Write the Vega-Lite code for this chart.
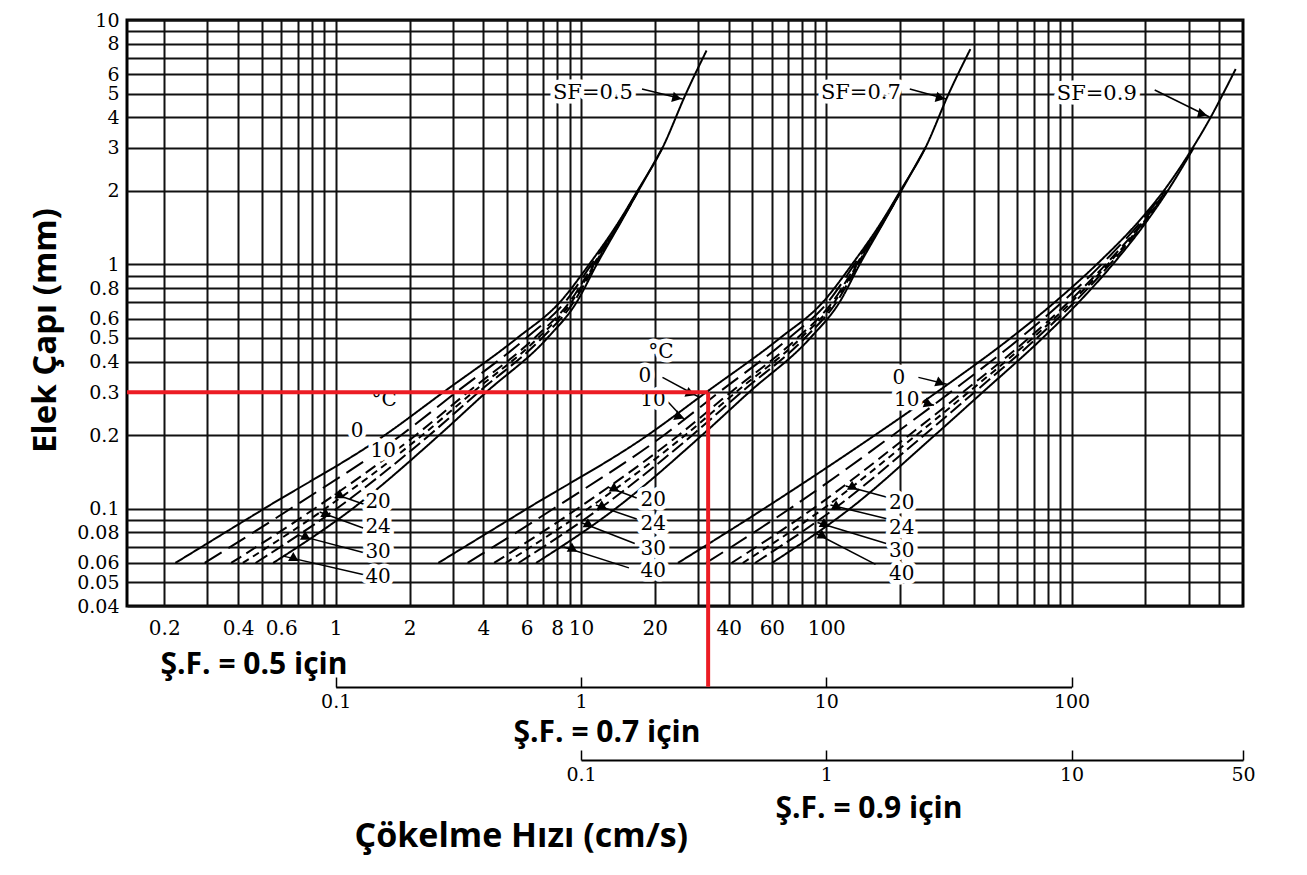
{
  "$schema": "https://vega.github.io/schema/vega-lite/v6.json",
  "width": 1116,
  "height": 586,
  "autosize": {"type": "none"},
  "padding": {"left": 127, "top": 20, "right": 64, "bottom": 269},
  "background": "white",
  "config": {
    "view": {"stroke": "black", "strokeWidth": 3},
    "axis": {"labelColor": "black", "titleColor": "black", "labelOverlap": false, "labelFlush": false, "labelBound": false}
  },
  "datasets": {
    "curves": [
      {"sf":"0.5","t":0,"d":0.06,"v":0.222},{"sf":"0.5","t":0,"d":0.1,"v":0.51},{"sf":"0.5","t":0,"d":0.2,"v":1.585},{"sf":"0.5","t":0,"d":0.3,"v":2.75},{"sf":"0.5","t":0,"d":0.5,"v":5.5},{"sf":"0.5","t":0,"d":0.7,"v":8.2},{"sf":"0.5","t":0,"d":1,"v":10.8},{"sf":"0.5","t":0,"d":1.5,"v":14.3},{"sf":"0.5","t":0,"d":2,"v":17.0},{"sf":"0.5","t":0,"d":3,"v":21.5},{"sf":"0.5","t":0,"d":5,"v":26.8},{"sf":"0.5","t":0,"d":7.5,"v":32.5},
      {"sf":"0.5","t":10,"d":0.06,"v":0.2924},{"sf":"0.5","t":10,"d":0.1,"v":0.654},{"sf":"0.5","t":10,"d":0.2,"v":1.847},{"sf":"0.5","t":10,"d":0.3,"v":3.102},{"sf":"0.5","t":10,"d":0.5,"v":5.988},{"sf":"0.5","t":10,"d":0.7,"v":8.6},{"sf":"0.5","t":10,"d":1,"v":11.03},{"sf":"0.5","t":10,"d":1.5,"v":14.39},{"sf":"0.5","t":10,"d":2,"v":17.05},
      {"sf":"0.5","t":20,"d":0.06,"v":0.3748},{"sf":"0.5","t":20,"d":0.1,"v":0.8185},{"sf":"0.5","t":20,"d":0.2,"v":2.12},{"sf":"0.5","t":20,"d":0.3,"v":3.458},{"sf":"0.5","t":20,"d":0.5,"v":6.464},{"sf":"0.5","t":20,"d":0.7,"v":8.971},{"sf":"0.5","t":20,"d":1,"v":11.25},{"sf":"0.5","t":20,"d":1.5,"v":14.47},{"sf":"0.5","t":20,"d":2,"v":17.09},
      {"sf":"0.5","t":24,"d":0.06,"v":0.4183},{"sf":"0.5","t":24,"d":0.1,"v":0.9046},{"sf":"0.5","t":24,"d":0.2,"v":2.254},{"sf":"0.5","t":24,"d":0.3,"v":3.628},{"sf":"0.5","t":24,"d":0.5,"v":6.686},{"sf":"0.5","t":24,"d":0.7,"v":9.144},{"sf":"0.5","t":24,"d":1,"v":11.34},{"sf":"0.5","t":24,"d":1.5,"v":14.51},{"sf":"0.5","t":24,"d":2,"v":17.11},
      {"sf":"0.5","t":30,"d":0.06,"v":0.4713},{"sf":"0.5","t":30,"d":0.1,"v":1.008},{"sf":"0.5","t":30,"d":0.2,"v":2.408},{"sf":"0.5","t":30,"d":0.3,"v":3.823},{"sf":"0.5","t":30,"d":0.5,"v":6.938},{"sf":"0.5","t":30,"d":0.7,"v":9.333},{"sf":"0.5","t":30,"d":1,"v":11.45},{"sf":"0.5","t":30,"d":1.5,"v":14.55},{"sf":"0.5","t":30,"d":2,"v":17.13},
      {"sf":"0.5","t":40,"d":0.06,"v":0.556},{"sf":"0.5","t":40,"d":0.1,"v":1.17},{"sf":"0.5","t":40,"d":0.2,"v":2.64},{"sf":"0.5","t":40,"d":0.3,"v":4.11},{"sf":"0.5","t":40,"d":0.5,"v":7.3},{"sf":"0.5","t":40,"d":0.7,"v":9.6},{"sf":"0.5","t":40,"d":1,"v":11.6},{"sf":"0.5","t":40,"d":1.5,"v":14.6},{"sf":"0.5","t":40,"d":2,"v":17.15},{"sf":"0.5","t":40,"d":3,"v":21.5},

      {"sf":"0.7","t":0,"d":0.06,"v":0.262},{"sf":"0.7","t":0,"d":0.1,"v":0.602},{"sf":"0.7","t":0,"d":0.2,"v":1.87},{"sf":"0.7","t":0,"d":0.3,"v":3.245},{"sf":"0.7","t":0,"d":0.5,"v":6.49},{"sf":"0.7","t":0,"d":0.7,"v":9.68},{"sf":"0.7","t":0,"d":1,"v":12.74},{"sf":"0.7","t":0,"d":1.5,"v":16.87},{"sf":"0.7","t":0,"d":2,"v":20.06},{"sf":"0.7","t":0,"d":3,"v":25.37},{"sf":"0.7","t":0,"d":5,"v":31.6},{"sf":"0.7","t":0,"d":7.6,"v":38.7},
      {"sf":"0.7","t":10,"d":0.06,"v":0.345},{"sf":"0.7","t":10,"d":0.1,"v":0.772},{"sf":"0.7","t":10,"d":0.2,"v":2.179},{"sf":"0.7","t":10,"d":0.3,"v":3.66},{"sf":"0.7","t":10,"d":0.5,"v":7.066},{"sf":"0.7","t":10,"d":0.7,"v":10.15},{"sf":"0.7","t":10,"d":1,"v":13.02},{"sf":"0.7","t":10,"d":1.5,"v":16.98},{"sf":"0.7","t":10,"d":2,"v":20.12},
      {"sf":"0.7","t":20,"d":0.06,"v":0.4423},{"sf":"0.7","t":20,"d":0.1,"v":0.9658},{"sf":"0.7","t":20,"d":0.2,"v":2.502},{"sf":"0.7","t":20,"d":0.3,"v":4.08},{"sf":"0.7","t":20,"d":0.5,"v":7.628},{"sf":"0.7","t":20,"d":0.7,"v":10.59},{"sf":"0.7","t":20,"d":1,"v":13.28},{"sf":"0.7","t":20,"d":1.5,"v":17.07},{"sf":"0.7","t":20,"d":2,"v":20.17},
      {"sf":"0.7","t":24,"d":0.06,"v":0.4936},{"sf":"0.7","t":24,"d":0.1,"v":1.067},{"sf":"0.7","t":24,"d":0.2,"v":2.66},{"sf":"0.7","t":24,"d":0.3,"v":4.281},{"sf":"0.7","t":24,"d":0.5,"v":7.889},{"sf":"0.7","t":24,"d":0.7,"v":10.79},{"sf":"0.7","t":24,"d":1,"v":13.38},{"sf":"0.7","t":24,"d":1.5,"v":17.12},{"sf":"0.7","t":24,"d":2,"v":20.19},
      {"sf":"0.7","t":30,"d":0.06,"v":0.5561},{"sf":"0.7","t":30,"d":0.1,"v":1.189},{"sf":"0.7","t":30,"d":0.2,"v":2.841},{"sf":"0.7","t":30,"d":0.3,"v":4.511},{"sf":"0.7","t":30,"d":0.5,"v":8.187},{"sf":"0.7","t":30,"d":0.7,"v":11.01},{"sf":"0.7","t":30,"d":1,"v":13.51},{"sf":"0.7","t":30,"d":1.5,"v":17.17},{"sf":"0.7","t":30,"d":2,"v":20.21},
      {"sf":"0.7","t":40,"d":0.06,"v":0.656},{"sf":"0.7","t":40,"d":0.1,"v":1.381},{"sf":"0.7","t":40,"d":0.2,"v":3.115},{"sf":"0.7","t":40,"d":0.3,"v":4.85},{"sf":"0.7","t":40,"d":0.5,"v":8.61},{"sf":"0.7","t":40,"d":0.7,"v":11.33},{"sf":"0.7","t":40,"d":1,"v":13.69},{"sf":"0.7","t":40,"d":1.5,"v":17.23},{"sf":"0.7","t":40,"d":2,"v":20.24},{"sf":"0.7","t":40,"d":3,"v":25.37},

      {"sf":"0.9","t":0,"d":0.06,"v":0.2484},{"sf":"0.9","t":0,"d":0.1,"v":0.5568},{"sf":"0.9","t":0,"d":0.2,"v":1.578},{"sf":"0.9","t":0,"d":0.3,"v":2.823},{"sf":"0.9","t":0,"d":0.5,"v":5.651},{"sf":"0.9","t":0,"d":0.7,"v":8.54},{"sf":"0.9","t":0,"d":1,"v":12.66},{"sf":"0.9","t":0,"d":1.5,"v":18.79},{"sf":"0.9","t":0,"d":2,"v":23.76},{"sf":"0.9","t":0,"d":3,"v":31.19},{"sf":"0.9","t":0,"d":4,"v":36.92},{"sf":"0.9","t":0,"d":5,"v":41.52},{"sf":"0.9","t":0,"d":6.3,"v":46.68},
      {"sf":"0.9","t":10,"d":0.06,"v":0.3237},{"sf":"0.9","t":10,"d":0.1,"v":0.7095},{"sf":"0.9","t":10,"d":0.2,"v":1.868},{"sf":"0.9","t":10,"d":0.3,"v":3.213},{"sf":"0.9","t":10,"d":0.5,"v":6.183},{"sf":"0.9","t":10,"d":0.7,"v":9.14},{"sf":"0.9","t":10,"d":1,"v":13.25},{"sf":"0.9","t":10,"d":1.5,"v":19.22},{"sf":"0.9","t":10,"d":2,"v":24.03},
      {"sf":"0.9","t":20,"d":0.06,"v":0.4108},{"sf":"0.9","t":20,"d":0.1,"v":0.882},{"sf":"0.9","t":20,"d":0.2,"v":2.175},{"sf":"0.9","t":20,"d":0.3,"v":3.61},{"sf":"0.9","t":20,"d":0.5,"v":6.705},{"sf":"0.9","t":20,"d":0.7,"v":9.712},{"sf":"0.9","t":20,"d":1,"v":13.79},{"sf":"0.9","t":20,"d":1.5,"v":19.61},{"sf":"0.9","t":20,"d":2,"v":24.27},
      {"sf":"0.9","t":24,"d":0.06,"v":0.4566},{"sf":"0.9","t":24,"d":0.1,"v":0.9716},{"sf":"0.9","t":24,"d":0.2,"v":2.326},{"sf":"0.9","t":24,"d":0.3,"v":3.802},{"sf":"0.9","t":24,"d":0.5,"v":6.95},{"sf":"0.9","t":24,"d":0.7,"v":9.979},{"sf":"0.9","t":24,"d":1,"v":14.05},{"sf":"0.9","t":24,"d":1.5,"v":19.78},{"sf":"0.9","t":24,"d":2,"v":24.38},
      {"sf":"0.9","t":30,"d":0.06,"v":0.5121},{"sf":"0.9","t":30,"d":0.1,"v":1.079},{"sf":"0.9","t":30,"d":0.2,"v":2.503},{"sf":"0.9","t":30,"d":0.3,"v":4.022},{"sf":"0.9","t":30,"d":0.5,"v":7.226},{"sf":"0.9","t":30,"d":0.7,"v":10.27},{"sf":"0.9","t":30,"d":1,"v":14.33},{"sf":"0.9","t":30,"d":1.5,"v":19.98},{"sf":"0.9","t":30,"d":2,"v":24.5},
      {"sf":"0.9","t":40,"d":0.06,"v":0.6003},{"sf":"0.9","t":40,"d":0.1,"v":1.248},{"sf":"0.9","t":40,"d":0.2,"v":2.77},{"sf":"0.9","t":40,"d":0.3,"v":4.346},{"sf":"0.9","t":40,"d":0.5,"v":7.628},{"sf":"0.9","t":40,"d":0.7,"v":10.7},{"sf":"0.9","t":40,"d":1,"v":14.72},{"sf":"0.9","t":40,"d":1.5,"v":20.25},{"sf":"0.9","t":40,"d":2,"v":24.66},{"sf":"0.9","t":40,"d":3,"v":31.48}
    ],
    "labels": [
      {"g":"0.5","label":"SF=0.5","kind":"sf","v":11.19,"d":5.03},
      {"g":"0.5","label":"°C","kind":"t","v":1.575,"d":0.2787},
      {"g":"0.5","label":"0","kind":"t","v":1.222,"d":0.208},
      {"g":"0.5","label":"10","kind":"t","v":1.561,"d":0.1724},
      {"g":"0.5","label":"20","kind":"t","v":1.489,"d":0.1066},
      {"g":"0.5","label":"24","kind":"t","v":1.489,"d":0.0842},
      {"g":"0.5","label":"30","kind":"t","v":1.489,"d":0.0666},
      {"g":"0.5","label":"40","kind":"t","v":1.489,"d":0.0526},
      {"g":"0.7","label":"SF=0.7","kind":"sf","v":13.84,"d":5.03},
      {"g":"0.7","label":"°C","kind":"t","v":2.118,"d":0.438},
      {"g":"0.7","label":"0","kind":"t","v":1.823,"d":0.3495},
      {"g":"0.7","label":"10","kind":"t","v":1.965,"d":0.2787},
      {"g":"0.7","label":"20","kind":"t","v":1.971,"d":0.1088},
      {"g":"0.7","label":"24","kind":"t","v":1.971,"d":0.0864},
      {"g":"0.7","label":"30","kind":"t","v":1.971,"d":0.0687},
      {"g":"0.7","label":"40","kind":"t","v":1.971,"d":0.0554},
      {"g":"0.9","label":"SF=0.9","kind":"sf","v":12.67,"d":4.98},
      {"g":"0.9","label":"0","kind":"t","v":1.976,"d":0.3428},
      {"g":"0.9","label":"10","kind":"t","v":2.13,"d":0.2787},
      {"g":"0.9","label":"20","kind":"t","v":2.032,"d":0.1056},
      {"g":"0.9","label":"24","kind":"t","v":2.032,"d":0.0834},
      {"g":"0.9","label":"30","kind":"t","v":2.032,"d":0.0672},
      {"g":"0.9","label":"40","kind":"t","v":2.032,"d":0.0541}
    ],
    "leaders": [
      {"g":"0.5","v":17.73,"d":5.22,"v2":26.0,"d2":4.75},
      {"g":"0.5","v":1.33,"d":0.1036,"v2":0.99,"d2":0.115},
      {"g":"0.5","v":1.293,"d":0.0834,"v2":0.86,"d2":0.097},
      {"g":"0.5","v":1.318,"d":0.0659,"v2":0.7,"d2":0.078},
      {"g":"0.5","v":1.318,"d":0.0536,"v2":0.611,"d2":0.064},
      {"g":"0.7","v":21.91,"d":5.22,"v2":30.9,"d2":4.75},
      {"g":"0.7","v":2.15,"d":0.3448,"v2":3.0,"d2":0.288},
      {"g":"0.7","v":2.227,"d":0.2787,"v2":2.64,"d2":0.2321},
      {"g":"0.7","v":1.687,"d":0.1107,"v2":1.3,"d2":0.1221},
      {"g":"0.7","v":1.687,"d":0.0908,"v2":1.15,"d2":0.1036},
      {"g":"0.7","v":1.657,"d":0.0721,"v2":1.0,"d2":0.0879},
      {"g":"0.7","v":1.569,"d":0.0573,"v2":0.85,"d2":0.0698},
      {"g":"0.9","v":21.83,"d":5.17,"v2":36.5,"d2":4.01},
      {"g":"0.9","v":2.375,"d":0.3448,"v2":3.1,"d2":0.323},
      {"g":"0.9","v":2.336,"d":0.2787,"v2":2.75,"d2":0.265},
      {"g":"0.9","v":1.816,"d":0.1107,"v2":1.2,"d2":0.124},
      {"g":"0.9","v":1.782,"d":0.0908,"v2":1.04,"d2":0.1036},
      {"g":"0.9","v":1.756,"d":0.0721,"v2":0.92,"d2":0.0879},
      {"g":"0.9","v":1.588,"d":0.0592,"v2":0.9,"d2":0.0796}
    ],
    "heads": [
      {"g":"0.5","head":"sf","v":24.6,"d":4.8},
      {"g":"0.5","head":"up","v":1.05,"d":0.1128},
      {"g":"0.5","head":"up","v":0.92,"d":0.0945},
      {"g":"0.5","head":"up","v":0.76,"d":0.0762},
      {"g":"0.5","head":"up","v":0.68,"d":0.0624},
      {"g":"0.7","head":"sf","v":29.2,"d":4.8},
      {"g":"0.7","head":"dn","v":2.8,"d":0.296},
      {"g":"0.7","head":"dn","v":2.52,"d":0.238},
      {"g":"0.7","head":"up","v":1.38,"d":0.1203},
      {"g":"0.7","head":"up","v":1.23,"d":0.1015},
      {"g":"0.7","head":"up","v":1.08,"d":0.0858},
      {"g":"0.7","head":"up","v":0.93,"d":0.0682},
      {"g":"0.9","head":"sf","v":34.2,"d":4.12},
      {"g":"0.9","head":"dn","v":2.92,"d":0.327},
      {"g":"0.9","head":"dn","v":2.62,"d":0.268},
      {"g":"0.9","head":"up","v":1.29,"d":0.1222},
      {"g":"0.9","head":"up","v":1.11,"d":0.1015},
      {"g":"0.9","head":"up","v":0.99,"d":0.086},
      {"g":"0.9","head":"up","v":0.97,"d":0.0772}
    ],
    "reading": [
      {"v":0.0141,"d":0.3,"v2":3.3,"d2":0.3},
      {"v":3.3,"d":0.3,"v2":3.3,"d2":0.0187}
    ]
  },
  "layer": [
    {
      "encoding": {
        "x": {"field": "v", "type": "quantitative",
          "scale": {"type": "log", "domain": [0.141, 5000], "nice": false},
          "axis": {
            "values": [0.2,0.3,0.4,0.5,0.6,0.7,0.8,0.9,1,2,3,4,5,6,7,8,9,10,20,30,40,50,60,70,80,90,100,200,300,400,500,600,700,800,900,1000,2000,3000,4000],
            "grid": true, "gridColor": "#111111", "gridWidth": 2, "gridOpacity": 1,
            "ticks": false, "domain": false, "format": "~g",
            "labelExpr": "indexof([0.2,0.4,0.6,1,2,4,6,8,10,20,40,60,100], datum.value) >= 0 ? datum.label : ''",
            "labelFont": "DejaVu Serif", "labelFontSize": 20, "labelPadding": 12,
            "title": "Ş.F. = 0.5 için", "titleFont": "Open Sans", "titleFontWeight": "bold", "titleFontSize": 30,
            "titleX": 33, "titleY": 67, "titleAlign": "left", "titleBaseline": "alphabetic", "titleAngle": 0
          }
        },
        "y": {"field": "d", "type": "quantitative",
          "scale": {"type": "log", "domain": [0.04, 10], "nice": false},
          "axis": {
            "values": [0.04,0.05,0.06,0.07,0.08,0.09,0.1,0.2,0.3,0.4,0.5,0.6,0.7,0.8,0.9,1,2,3,4,5,6,7,8,9,10],
            "grid": true, "gridColor": "#111111", "gridWidth": 2, "gridOpacity": 1,
            "ticks": false, "domain": false, "format": "~g",
            "labelExpr": "indexof([0.04,0.05,0.06,0.08,0.1,0.2,0.3,0.4,0.5,0.6,0.8,1,2,3,4,5,6,8,10], datum.value) >= 0 ? datum.label : ''",
            "labelFont": "DejaVu Serif", "labelFontSize": 19, "labelPadding": 8,
            "title": "Elek Çapı (mm)", "titleFont": "Open Sans", "titleFontWeight": "bold", "titleFontSize": 33,
            "titleX": -82, "titleY": 310, "titleAngle": -90, "titleAlign": "center", "titleBaseline": "middle"
          }
        }
      },
      "layer": [
        {"data": {"name": "curves"}, "transform": [{"filter": "datum.sf == '0.5'"}],
         "mark": {"type": "line", "color": "black", "strokeWidth": 2, "interpolate": "monotone"},
         "encoding": {"detail": {"field": "t", "type": "nominal"}, "order": {"field": "d", "type": "quantitative"},
           "strokeDash": {"field": "t", "type": "nominal", "scale": {"domain": [0,10,20,24,30,40], "range": [[1,0],[20,8],[12,6],[7,5],[14,5],[1,0]]}, "legend": null}}},
        {"data": {"name": "leaders"}, "transform": [{"filter": "datum.g == '0.5'"}],
         "mark": {"type": "rule", "color": "black", "strokeWidth": 1.5},
         "encoding": {"x2": {"field": "v2"}, "y2": {"field": "d2"}}},
        {"data": {"name": "heads"}, "transform": [{"filter": "datum.g == '0.5'"}],
         "mark": {"type": "point", "shape": "triangle-right", "filled": true, "color": "black", "size": 110, "opacity": 1},
         "encoding": {"angle": {"field": "head", "type": "nominal", "scale": {"domain": ["sf","dn","up"], "range": [14, 30, 199]}, "legend": null}}},
        {"data": {"name": "labels"}, "transform": [{"filter": "datum.g == '0.5'"}],
         "mark": {"type": "text", "font": "DejaVu Serif", "fill": "white", "stroke": "white", "strokeWidth": 9, "strokeJoin": "round"},
         "encoding": {"text": {"field": "label"}, "size": {"field": "kind", "type": "nominal", "scale": {"domain": ["sf","t"], "range": [21,20]}, "legend": null}}},
        {"data": {"name": "labels"}, "transform": [{"filter": "datum.g == '0.5'"}],
         "mark": {"type": "text", "font": "DejaVu Serif", "fill": "black"},
         "encoding": {"text": {"field": "label"}, "size": {"field": "kind", "type": "nominal", "scale": {"domain": ["sf","t"], "range": [21,20]}, "legend": null}}}
      ]
    },
    {
      "encoding": {
        "x": {"field": "v", "type": "quantitative",
          "scale": {"type": "log", "domain": [0.1, 100], "range": [208.7, 944.5], "nice": false},
          "axis": {
            "orient": "bottom", "offset": 81, "values": [0.1,1,10,100], "grid": false,
            "domain": true, "domainColor": "black", "domainWidth": 2,
            "ticks": true, "tickSize": -10, "tickColor": "black", "tickWidth": 1.5,
            "format": "~g", "labelFont": "DejaVu Serif", "labelFontSize": 19, "labelPadding": 15,
            "title": "Ş.F. = 0.7 için", "titleFont": "Open Sans", "titleFontWeight": "bold", "titleFontSize": 30,
            "titleX": 386, "titleY": 54, "titleAlign": "left", "titleBaseline": "alphabetic", "titleAngle": 0
          }
        },
        "y": {"field": "d", "type": "quantitative", "scale": {"type": "log", "domain": [0.04, 10], "nice": false}}
      },
      "layer": [
        {"data": {"name": "curves"}, "transform": [{"filter": "datum.sf == '0.7'"}],
         "mark": {"type": "line", "color": "black", "strokeWidth": 2, "interpolate": "monotone"},
         "encoding": {"detail": {"field": "t", "type": "nominal"}, "order": {"field": "d", "type": "quantitative"},
           "strokeDash": {"field": "t", "type": "nominal", "scale": {"domain": [0,10,20,24,30,40], "range": [[1,0],[20,8],[12,6],[7,5],[14,5],[1,0]]}, "legend": null}}},
        {"data": {"name": "leaders"}, "transform": [{"filter": "datum.g == '0.7'"}],
         "mark": {"type": "rule", "color": "black", "strokeWidth": 1.5},
         "encoding": {"x2": {"field": "v2"}, "y2": {"field": "d2"}}},
        {"data": {"name": "heads"}, "transform": [{"filter": "datum.g == '0.7'"}],
         "mark": {"type": "point", "shape": "triangle-right", "filled": true, "color": "black", "size": 110, "opacity": 1},
         "encoding": {"angle": {"field": "head", "type": "nominal", "scale": {"domain": ["sf","dn","up"], "range": [14, 30, 199]}, "legend": null}}},
        {"data": {"name": "labels"}, "transform": [{"filter": "datum.g == '0.7'"}],
         "mark": {"type": "text", "font": "DejaVu Serif", "fill": "white", "stroke": "white", "strokeWidth": 9, "strokeJoin": "round"},
         "encoding": {"text": {"field": "label"}, "size": {"field": "kind", "type": "nominal", "scale": {"domain": ["sf","t"], "range": [21,20]}, "legend": null}}},
        {"data": {"name": "labels"}, "transform": [{"filter": "datum.g == '0.7'"}],
         "mark": {"type": "text", "font": "DejaVu Serif", "fill": "black"},
         "encoding": {"text": {"field": "label"}, "size": {"field": "kind", "type": "nominal", "scale": {"domain": ["sf","t"], "range": [21,20]}, "legend": null}}}
      ]
    },
    {
      "encoding": {
        "x": {"field": "v", "type": "quantitative",
          "scale": {"type": "log", "domain": [0.1, 50], "range": [454.0, 1116.0], "nice": false},
          "axis": {
            "orient": "bottom", "offset": 154, "values": [0.1,1,10,50], "grid": false,
            "domain": true, "domainColor": "black", "domainWidth": 2,
            "ticks": true, "tickSize": -10, "tickColor": "black", "tickWidth": 1.5,
            "format": "~g", "labelFont": "DejaVu Serif", "labelFontSize": 19, "labelPadding": 15,
            "title": "Ş.F. = 0.9 için", "titleFont": "Open Sans", "titleFontWeight": "bold", "titleFontSize": 30,
            "titleX": 648, "titleY": 57, "titleAlign": "left", "titleBaseline": "alphabetic", "titleAngle": 0
          }
        },
        "y": {"field": "d", "type": "quantitative", "scale": {"type": "log", "domain": [0.04, 10], "nice": false}}
      },
      "layer": [
        {"data": {"name": "curves"}, "transform": [{"filter": "datum.sf == '0.9'"}],
         "mark": {"type": "line", "color": "black", "strokeWidth": 2, "interpolate": "monotone"},
         "encoding": {"detail": {"field": "t", "type": "nominal"}, "order": {"field": "d", "type": "quantitative"},
           "strokeDash": {"field": "t", "type": "nominal", "scale": {"domain": [0,10,20,24,30,40], "range": [[1,0],[20,8],[12,6],[7,5],[14,5],[1,0]]}, "legend": null}}},
        {"data": {"name": "leaders"}, "transform": [{"filter": "datum.g == '0.9'"}],
         "mark": {"type": "rule", "color": "black", "strokeWidth": 1.5},
         "encoding": {"x2": {"field": "v2"}, "y2": {"field": "d2"}}},
        {"data": {"name": "heads"}, "transform": [{"filter": "datum.g == '0.9'"}],
         "mark": {"type": "point", "shape": "triangle-right", "filled": true, "color": "black", "size": 110, "opacity": 1},
         "encoding": {"angle": {"field": "head", "type": "nominal", "scale": {"domain": ["sf","dn","up"], "range": [27, 30, 199]}, "legend": null}}},
        {"data": {"name": "labels"}, "transform": [{"filter": "datum.g == '0.9'"}],
         "mark": {"type": "text", "font": "DejaVu Serif", "fill": "white", "stroke": "white", "strokeWidth": 9, "strokeJoin": "round"},
         "encoding": {"text": {"field": "label"}, "size": {"field": "kind", "type": "nominal", "scale": {"domain": ["sf","t"], "range": [21,20]}, "legend": null}}},
        {"data": {"name": "labels"}, "transform": [{"filter": "datum.g == '0.9'"}],
         "mark": {"type": "text", "font": "DejaVu Serif", "fill": "black"},
         "encoding": {"text": {"field": "label"}, "size": {"field": "kind", "type": "nominal", "scale": {"domain": ["sf","t"], "range": [21,20]}, "legend": null}}}
      ]
    },
    {
      "data": {"name": "reading"},
      "mark": {"type": "rule", "color": "#ec1c24", "strokeWidth": 4},
      "encoding": {
        "x": {"field": "v", "type": "quantitative",
          "scale": {"type": "log", "domain": [0.1, 100], "range": [208.7, 944.5], "nice": false},
          "axis": {
            "orient": "bottom", "offset": 0, "grid": false, "domain": false, "ticks": false, "labels": false,
            "title": "Çökelme Hızı (cm/s)", "titleFont": "Open Sans", "titleFontWeight": "bold", "titleFontSize": 34,
            "titleX": 227, "titleY": 240, "titleAlign": "left", "titleBaseline": "alphabetic", "titleAngle": 0
          }
        },
        "x2": {"field": "v2"},
        "y": {"field": "d", "type": "quantitative", "scale": {"type": "log", "domain": [0.04, 10], "nice": false}},
        "y2": {"field": "d2"}
      }
    }
  ],
  "resolve": {"scale": {"x": "independent"}, "axis": {"x": "independent"}}
}
